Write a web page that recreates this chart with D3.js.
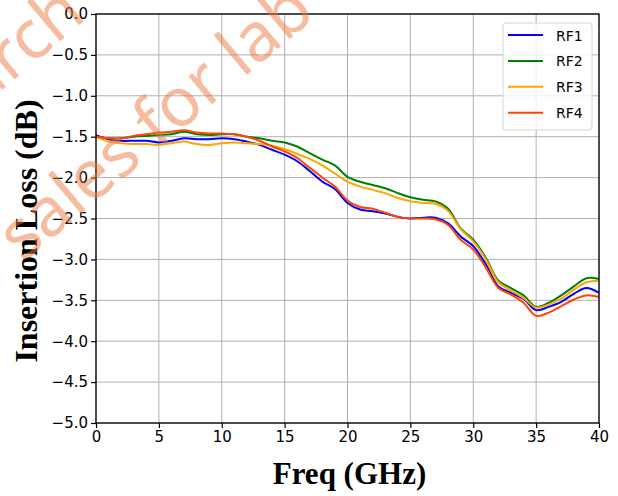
<!DOCTYPE html>
<html>
<head>
<meta charset="utf-8">
<script src="https://cdn.jsdelivr.net/npm/d3@7"></script>
<style>
  body { margin: 0; background: #fff; }
  svg { display: block; }
</style>
</head>
<body>
<svg id="chart" width="618" height="496"></svg>
<script>
// data (1 GHz steps)
var freq = d3.range(0, 41);
var rf1 = [-1.48, -1.53, -1.55, -1.55, -1.55, -1.57, -1.55, -1.52, -1.53, -1.53,
    -1.52, -1.53, -1.56, -1.60, -1.66, -1.72, -1.80, -1.92, -2.05, -2.14,
    -2.31, -2.39, -2.41, -2.44, -2.48, -2.50, -2.49, -2.49, -2.56, -2.72,
    -2.84, -3.06, -3.33, -3.41, -3.48, -3.62, -3.58, -3.52, -3.42, -3.35, -3.41];
var rf2 = [-1.50, -1.52, -1.52, -1.50, -1.49, -1.48, -1.47, -1.44, -1.47, -1.48,
    -1.47, -1.47, -1.50, -1.52, -1.55, -1.57, -1.62, -1.70, -1.78, -1.85,
    -1.99, -2.05, -2.09, -2.13, -2.19, -2.24, -2.27, -2.29, -2.38, -2.62,
    -2.76, -2.98, -3.26, -3.35, -3.44, -3.58, -3.53, -3.44, -3.33, -3.23, -3.24];
var rf3 = [-1.50, -1.56, -1.58, -1.59, -1.59, -1.60, -1.58, -1.56, -1.59, -1.60,
    -1.58, -1.57, -1.58, -1.59, -1.61, -1.65, -1.71, -1.77, -1.85, -1.95,
    -2.05, -2.11, -2.15, -2.19, -2.25, -2.29, -2.31, -2.32, -2.41, -2.63,
    -2.78, -3.00, -3.28, -3.38, -3.47, -3.59, -3.55, -3.48, -3.37, -3.28, -3.26];
var rf4 = [-1.50, -1.52, -1.52, -1.49, -1.47, -1.45, -1.44, -1.42, -1.45, -1.46,
    -1.46, -1.47, -1.50, -1.55, -1.62, -1.68, -1.76, -1.88, -2.00, -2.11,
    -2.28, -2.36, -2.38, -2.43, -2.48, -2.50, -2.50, -2.51, -2.58, -2.76,
    -2.88, -3.10, -3.35, -3.43, -3.53, -3.69, -3.65, -3.57, -3.49, -3.44, -3.46];

var names = ["RF1", "RF2", "RF3", "RF4"];
var colors = ["#0000ff", "#008000", "#ffa500", "#ff4500"];
var xTicks = [0, 5, 10, 15, 20, 25, 30, 35, 40];
var yTicks = d3.range(0, 11).map(function (i) { return -i * 0.5; });

var series = [rf1, rf2, rf3, rf4].map(function (vals, i) {
    return {name: names[i], color: colors[i], values: vals.map(function (v, j) {
        return {f: freq[j], v: v};
    })};
});

var svg = d3.select("#chart");
var margin = {top: 14, right: 19, bottom: 73, left: 96};
var width = 618 - margin.left - margin.right;
var height = 496 - margin.top - margin.bottom;

var x = d3.scaleLinear().domain([0, 40]).range([0, width]);
var y = d3.scaleLinear().domain([-5, 0]).range([height, 0]);

var g = svg.append("g")
    .attr("transform", "translate(" + margin.left + "," + margin.top + ")");

// grid
g.append("g").selectAll("line")
    .data(xTicks)
    .enter().append("line")
    .attr("x1", function (d) { return x(d); })
    .attr("x2", function (d) { return x(d); })
    .attr("y1", 0).attr("y2", height)
    .attr("stroke", "#b0b0b0").attr("stroke-width", 1);
g.append("g").selectAll("line")
    .data(yTicks)
    .enter().append("line")
    .attr("y1", function (d) { return y(d); })
    .attr("y2", function (d) { return y(d); })
    .attr("x1", 0).attr("x2", width)
    .attr("stroke", "#b0b0b0").attr("stroke-width", 1);

var line = d3.line()
    .x(function (d) { return x(d.f); })
    .y(function (d) { return y(d.v); })
    .curve(d3.curveCatmullRom.alpha(0.5));

g.append("g").selectAll("path")
    .data(series)
    .enter().append("path")
    .attr("fill", "none")
    .attr("stroke", function (d) { return d.color; })
    .attr("stroke-width", 2)
    .attr("d", function (d) { return line(d.values); });

// axes
var fmt = function (d) { return d3.format(".1f")(d).replace("-", "\u2212"); };
var xAxis = g.append("g")
    .attr("transform", "translate(0," + height + ")")
    .call(d3.axisBottom(x).tickValues(xTicks).tickSize(5).tickPadding(3));
var yAxis = g.append("g")
    .call(d3.axisLeft(y).tickValues(yTicks).tickFormat(fmt).tickSize(5).tickPadding(3));

[xAxis, yAxis].forEach(function (a) {
    a.select(".domain").remove();
    a.selectAll("line").attr("stroke", "#000").attr("stroke-width", 1.2);
    a.selectAll("text")
        .attr("fill", "#000")
        .style("font-family", "'DejaVu Sans', sans-serif")
        .style("font-size", "15px");
});

// frame
g.append("rect")
    .attr("width", width).attr("height", height)
    .attr("fill", "none")
    .attr("stroke", "#000")
    .attr("stroke-width", 1.3);

// axis titles
svg.append("text")
    .attr("x", margin.left + width / 2 + 2)
    .attr("y", 484)
    .attr("text-anchor", "middle")
    .style("font-family", "'Liberation Serif', serif")
    .style("font-weight", "bold")
    .style("font-size", "31px")
    .text("Freq (GHz)");

svg.append("text")
    .attr("transform", "translate(37," + 231 + ") rotate(-90)")
    .attr("text-anchor", "middle")
    .style("font-family", "'Liberation Serif', serif")
    .style("font-weight", "bold")
    .style("font-size", "32px")
    .text("Insertion Loss (dB)");

// legend
var legend = svg.append("g").attr("transform", "translate(503,23)");
legend.append("rect")
    .attr("width", 89).attr("height", 107)
    .attr("rx", 3)
    .attr("fill", "#fff").attr("fill-opacity", 0.8)
    .attr("stroke", "#d5d5d5");
var item = legend.selectAll("g.item")
    .data(series)
    .enter().append("g")
    .attr("class", "item")
    .attr("transform", function (d, i) { return "translate(0," + (12 + i * 25.9) + ")"; });
item.append("line")
    .attr("x1", 5).attr("x2", 40)
    .attr("stroke", function (d) { return d.color; })
    .attr("stroke-width", 2);
item.append("text")
    .attr("x", 53).attr("y", 5.5)
    .style("font-family", "'DejaVu Sans', sans-serif")
    .style("font-size", "14px")
    .text(function (d) { return d.name; });

// watermark
var wm = svg.append("g")
    .style("font-family", "'Noto Sans', sans-serif")
    .style("font-size", "68px")
    .attr("fill", "#ee7a42")
    .attr("fill-opacity", 0.5);
wm.append("text")
    .attr("transform", "translate(88,18) rotate(-40)")
    .attr("text-anchor", "end")
    .text("for research");
wm.append("text")
    .attr("transform", "translate(-62,334) rotate(-40)")
    .text("for sales for lab");
</script>
</body>
</html>
